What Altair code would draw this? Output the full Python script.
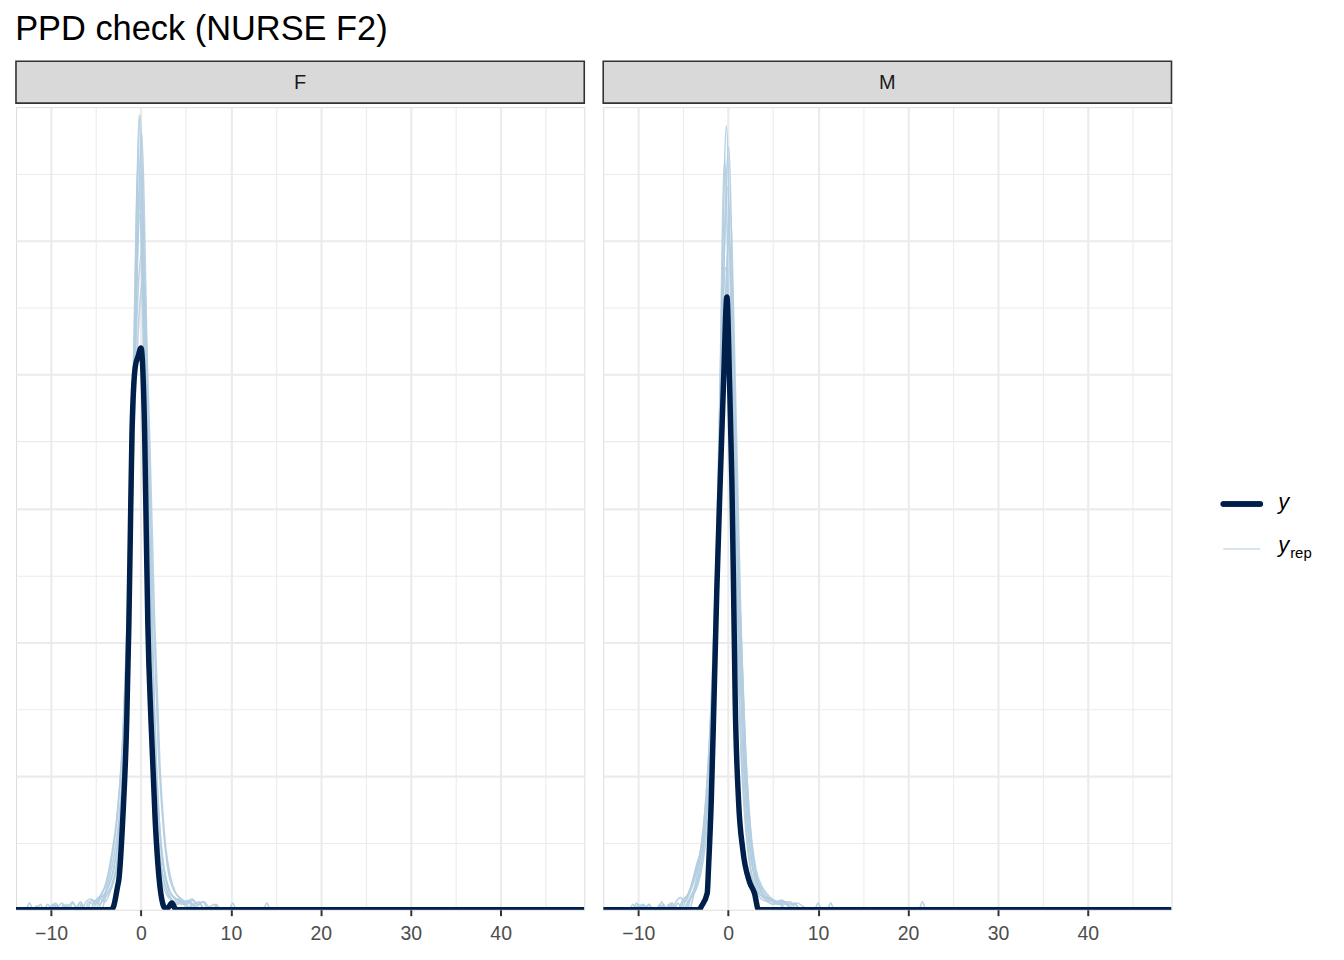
import altair as alt
import pandas as pd

# ---------------- data ----------------
PANELS = ["F", "M"]
X_DOMAIN = [-13.9, 49.3]
Y_DOMAIN = [0, 3.0]
X_GRID = [-10, -5, 0, 5, 10, 15, 20, 25, 30, 35, 40, 45]
Y_GRID = [0.25, 0.5, 0.75, 1.0, 1.25, 1.5, 1.75, 2.0, 2.25, 2.5, 2.75]

# observed density (y)
F_Y = [(-13.9, 0), (-3.3, 0), (-3.05, 0.012), (-2.6, 0.087), (-2.46, 0.112), (-2.03, 0.335),
       (-1.58, 0.71), (-1.35, 1.06), (-1.18, 1.41), (-1.0, 1.78), (-0.63, 2.03), (-0.3, 2.07),
       (0.0, 2.10), (0.41, 1.78), (0.59, 1.41), (0.77, 1.06), (1.11, 0.71), (1.58, 0.335),
       (2.03, 0.112), (2.4, 0.026), (2.6, 0.008), (2.95, 0.006), (3.43, 0.025), (3.9, 0), (49.3, 0)]
M_Y = [(-13.9, 0), (-3.2, 0), (-2.99, 0.012), (-2.33, 0.062), (-2.18, 0.162), (-1.88, 0.409),
       (-1.58, 0.781), (-1.27, 1.19), (-0.89, 1.599), (-0.52, 1.97), (-0.14, 2.29), (0.15, 1.97),
       (0.41, 1.599), (0.6, 1.19), (0.78, 0.781), (1.15, 0.409), (1.63, 0.223), (2.36, 0.105),
       (2.92, 0.062), (3.37, 0), (49.3, 0)]

# replicated densities (y_rep)
F_REP_A = [(-13.9, 0), (-12.8, 0), (-12.4, 0.025), (-12.0, 0), (-9.0, 0), (-8.6, 0.02), (-8.2, 0.01),
           (-7.6, 0.03), (-7.1, 0), (-5.0, 0), (-4.5, 0.04), (-4.0, 0.03), (-3.4, 0.07), (-2.8, 0.14),
           (-2.2, 0.33), (-1.6, 0.78), (-1.1, 1.45), (-0.65, 2.3), (-0.2, 2.97), (0.25, 2.3), (0.65, 1.45),
           (1.1, 0.78), (1.6, 0.33), (2.2, 0.13), (2.8, 0.06), (3.4, 0.035), (4.0, 0.02), (4.6, 0.03),
           (5.2, 0), (13.6, 0), (14.0, 0.025), (14.4, 0), (49.3, 0)]
F_REP_B = [(-13.9, 0), (-10.8, 0), (-10.4, 0.02), (-10.0, 0.01), (-9.5, 0.025), (-9.0, 0), (-6.2, 0),
           (-5.8, 0.03), (-5.3, 0.02), (-4.8, 0.045), (-4.2, 0.05), (-3.6, 0.09), (-3.0, 0.16), (-2.4, 0.3),
           (-1.8, 0.62), (-1.2, 1.3), (-0.6, 2.2), (0.0, 2.75), (0.5, 2.15), (1.0, 1.3), (1.5, 0.65),
           (2.1, 0.28), (2.7, 0.12), (3.3, 0.06), (4.0, 0.04), (4.7, 0.025), (5.3, 0.03), (5.8, 0),
           (8.0, 0), (8.4, 0.02), (8.8, 0), (49.3, 0)]
F_REP_C = [(-13.9, 0), (-11.6, 0), (-11.2, 0.02), (-10.8, 0), (-7.2, 0), (-6.8, 0.025), (-6.4, 0),
           (-5.6, 0), (-5.1, 0.035), (-4.6, 0.02), (-4.0, 0.06), (-3.5, 0.12), (-3.0, 0.2), (-2.5, 0.32),
           (-1.9, 0.6), (-1.3, 1.2), (-0.7, 2.05), (-0.1, 2.6), (0.5, 2.0), (1.1, 1.15), (1.7, 0.55),
           (2.3, 0.22), (2.9, 0.1), (3.5, 0.05), (4.2, 0.035), (4.8, 0.02), (5.4, 0.03), (6.0, 0.01),
           (6.6, 0.02), (7.1, 0), (9.8, 0), (10.2, 0.025), (10.6, 0), (49.3, 0)]
F_REP_D = [(-13.9, 0), (-9.8, 0), (-9.4, 0.02), (-9.0, 0), (-8.0, 0), (-7.6, 0.025), (-7.2, 0.01),
           (-6.7, 0.03), (-6.2, 0), (-4.4, 0), (-3.9, 0.05), (-3.3, 0.09), (-2.7, 0.17), (-2.1, 0.38),
           (-1.5, 0.85), (-0.9, 1.6), (-0.4, 2.45), (0.1, 2.9), (0.55, 2.3), (1.0, 1.45), (1.5, 0.75),
           (2.0, 0.35), (2.6, 0.15), (3.2, 0.07), (3.8, 0.04), (4.5, 0.02), (5.2, 0.035), (5.8, 0.02),
           (6.5, 0.03), (7.0, 0), (49.3, 0)]
F_REP_E = [(-13.9, 0), (-8.6, 0), (-8.2, 0.02), (-7.8, 0), (-6.6, 0), (-6.1, 0.03), (-5.6, 0.04),
           (-5.0, 0.03), (-4.4, 0.06), (-3.8, 0.1), (-3.2, 0.2), (-2.6, 0.36), (-2.0, 0.65), (-1.4, 1.2),
           (-0.7, 2.0), (0.05, 2.45), (0.7, 1.95), (1.3, 1.2), (1.9, 0.62), (2.5, 0.3), (3.1, 0.13),
           (3.7, 0.07), (4.3, 0.045), (5.0, 0.03), (5.7, 0.04), (6.3, 0.02), (7.0, 0.03), (7.6, 0.01),
           (8.2, 0.02), (8.7, 0), (49.3, 0)]
F_REP_F = [(-13.9, 0), (-12.0, 0), (-11.6, 0.015), (-11.2, 0), (-10.2, 0), (-9.8, 0.02), (-9.4, 0),
           (-5.4, 0), (-4.9, 0.03), (-4.3, 0.05), (-3.7, 0.08), (-3.1, 0.14), (-2.5, 0.28), (-1.9, 0.6),
           (-1.3, 1.25), (-0.8, 2.1), (-0.3, 2.8), (0.2, 2.2), (0.7, 1.35), (1.2, 0.7), (1.8, 0.3),
           (2.4, 0.13), (3.0, 0.06), (3.6, 0.03), (4.2, 0.04), (4.8, 0.02), (5.5, 0.03), (6.1, 0), (49.3, 0)]
F_REP_G = [(-13.9, 0), (-10.2, 0), (-9.8, 0.02), (-9.3, 0.01), (-8.8, 0.025), (-8.3, 0), (-6.0, 0),
           (-5.5, 0.035), (-5.0, 0.02), (-4.5, 0.05), (-3.9, 0.1), (-3.3, 0.2), (-2.7, 0.34), (-2.1, 0.6),
           (-1.4, 1.15), (-0.6, 1.95), (0.2, 2.35), (0.9, 1.85), (1.5, 1.1), (2.1, 0.55), (2.7, 0.25),
           (3.3, 0.12), (3.9, 0.06), (4.5, 0.04), (5.1, 0.02), (5.7, 0.035), (6.3, 0.02), (6.9, 0.03),
           (7.5, 0), (49.3, 0)]
F_REP_H = [(-13.9, 0), (-7.0, 0), (-6.6, 0.02), (-6.2, 0), (-4.8, 0), (-4.3, 0.035), (-3.7, 0.06),
           (-3.1, 0.1), (-2.5, 0.2), (-1.9, 0.45), (-1.3, 1.0), (-0.7, 2.1), (-0.1, 2.97), (0.45, 2.2),
           (1.0, 1.1), (1.6, 0.45), (2.2, 0.18), (2.8, 0.08), (3.4, 0.04), (4.0, 0.025), (4.7, 0.035),
           (5.3, 0.01), (5.9, 0.02), (6.4, 0), (49.3, 0)]

M_REP_A = [(-13.9, 0), (-10.6, 0), (-10.2, 0.025), (-9.8, 0), (-7.8, 0), (-7.4, 0.03), (-7.0, 0),
           (-4.8, 0), (-4.3, 0.04), (-3.7, 0.09), (-3.1, 0.2), (-2.5, 0.4), (-1.9, 0.75), (-1.3, 1.35),
           (-0.75, 2.2), (-0.2, 2.93), (0.3, 2.25), (0.8, 1.4), (1.3, 0.75), (1.9, 0.35), (2.5, 0.15),
           (3.1, 0.07), (3.7, 0.04), (4.4, 0.03), (5.0, 0.02), (5.6, 0.03), (6.2, 0), (49.3, 0)]
M_REP_B = [(-13.9, 0), (-9.8, 0), (-9.4, 0.02), (-9.0, 0), (-6.8, 0), (-6.4, 0.025), (-6.0, 0),
           (-5.4, 0), (-4.9, 0.04), (-4.4, 0.06), (-3.8, 0.12), (-3.2, 0.18), (-2.6, 0.3), (-2.0, 0.55),
           (-1.4, 1.1), (-0.8, 1.95), (-0.1, 2.7), (0.5, 2.0), (1.1, 1.15), (1.7, 0.55), (2.3, 0.25),
           (2.9, 0.12), (3.5, 0.06), (4.2, 0.04), (4.9, 0.03), (5.6, 0.02), (6.3, 0.03), (7.0, 0),
           (9.6, 0), (10.0, 0.025), (10.4, 0), (49.3, 0)]
M_REP_C = [(-13.9, 0), (-7.6, 0), (-7.2, 0.02), (-6.8, 0), (-5.6, 0), (-5.1, 0.035), (-4.6, 0.05),
           (-4.0, 0.1), (-3.5, 0.17), (-3.0, 0.22), (-2.4, 0.35), (-1.8, 0.65), (-1.1, 1.3), (-0.5, 2.1),
           (0.1, 2.5), (0.7, 1.95), (1.3, 1.15), (1.9, 0.55), (2.5, 0.26), (3.1, 0.13), (3.7, 0.08),
           (4.3, 0.05), (4.9, 0.035), (5.5, 0.02), (6.1, 0.03), (6.8, 0.01), (7.4, 0.02), (8.0, 0),
           (11.0, 0), (11.4, 0.025), (11.8, 0), (49.3, 0)]
M_REP_D = [(-13.9, 0), (-10.0, 0), (-9.6, 0.02), (-9.2, 0.01), (-8.8, 0.02), (-8.4, 0), (-6.0, 0),
           (-5.6, 0.025), (-5.1, 0), (-4.3, 0), (-3.8, 0.06), (-3.2, 0.13), (-2.6, 0.27), (-2.0, 0.55),
           (-1.4, 1.1), (-0.8, 1.95), (0.05, 2.85), (0.6, 2.1), (1.1, 1.3), (1.6, 0.7), (2.2, 0.32),
           (2.8, 0.15), (3.4, 0.08), (4.0, 0.05), (4.7, 0.04), (5.4, 0.025), (6.0, 0.035), (6.7, 0.02),
           (7.4, 0.025), (8.0, 0), (21.2, 0), (21.6, 0.03), (22.0, 0), (49.3, 0)]
M_REP_E = [(-13.9, 0), (-8.0, 0), (-7.6, 0.02), (-7.2, 0), (-6.2, 0), (-5.8, 0.03), (-5.3, 0.045),
           (-4.8, 0.03), (-4.2, 0.07), (-3.6, 0.13), (-3.0, 0.24), (-2.4, 0.45), (-1.8, 0.85), (-1.1, 1.55),
           (-0.3, 2.4), (0.4, 1.9), (1.0, 1.2), (1.6, 0.65), (2.2, 0.3), (2.8, 0.15), (3.4, 0.09),
           (4.0, 0.05), (4.6, 0.04), (5.2, 0.03), (5.8, 0.02), (6.5, 0.03), (7.1, 0.02), (7.7, 0.025),
           (8.4, 0.01), (8.9, 0), (49.3, 0)]
M_REP_F = [(-13.9, 0), (-10.4, 0), (-10.0, 0.02), (-9.6, 0), (-7.0, 0), (-6.6, 0.02), (-6.2, 0),
           (-5.0, 0), (-4.5, 0.03), (-4.0, 0.05), (-3.4, 0.09), (-2.8, 0.18), (-2.2, 0.35), (-1.6, 0.7),
           (-0.9, 1.45), (-0.3, 2.2), (0.2, 2.62), (0.8, 1.95), (1.4, 1.1), (2.0, 0.55), (2.6, 0.25),
           (3.2, 0.12), (3.8, 0.06), (4.5, 0.04), (5.2, 0.03), (5.9, 0.035), (6.6, 0.02), (7.2, 0), (49.3, 0)]
M_REP_G = [(-13.9, 0), (-9.2, 0), (-8.8, 0.02), (-8.4, 0), (-5.2, 0), (-4.7, 0.04), (-4.2, 0.08),
           (-3.7, 0.14), (-3.2, 0.2), (-2.6, 0.32), (-2.0, 0.58), (-1.3, 1.15), (-0.6, 1.85), (0.0, 2.2),
           (0.7, 1.8), (1.3, 1.15), (1.9, 0.62), (2.5, 0.3), (3.1, 0.15), (3.7, 0.09), (4.3, 0.06),
           (4.9, 0.04), (5.5, 0.03), (6.2, 0.02), (6.9, 0.03), (7.6, 0), (49.3, 0)]
M_REP_H = [(-13.9, 0), (-11.0, 0), (-10.6, 0.02), (-10.2, 0), (-6.6, 0), (-6.2, 0.025), (-5.8, 0),
           (-4.6, 0), (-4.1, 0.05), (-3.5, 0.1), (-2.9, 0.2), (-2.3, 0.4), (-1.7, 0.8), (-1.1, 1.55),
           (-0.4, 2.8), (0.2, 2.0), (0.8, 1.2), (1.4, 0.6), (2.0, 0.28), (2.6, 0.13), (3.2, 0.07),
           (3.8, 0.05), (4.4, 0.03), (5.0, 0.02), (5.7, 0.03), (6.4, 0), (49.3, 0)]

F_REPS = [F_REP_A, F_REP_B, F_REP_C, F_REP_D, F_REP_E, F_REP_F, F_REP_G, F_REP_H]
M_REPS = [M_REP_A, M_REP_B, M_REP_C, M_REP_D, M_REP_E, M_REP_F, M_REP_G, M_REP_H]

# ---------------- styling ----------------
FONT = "Liberation Sans"
DARK = "#011f4b"
LIGHT = "#b3cde0"
GRID = "#EBEBEB"
BORDER = "#333333"
W, H = 570, 805
STRIP_H = 42


def make_df(y_pts, reps):
    rows = []
    for i, pts in enumerate(reps):
        for j, (x, y) in enumerate(pts):
            rows.append({"curve": f"rep{i}", "kind": "yrep", "x": x, "y": y, "i": j})
    for j, (x, y) in enumerate(y_pts):
        rows.append({"curve": "y", "kind": "y", "x": x, "y": y, "i": j})
    return pd.DataFrame(rows)


x_axis = alt.Axis(
    values=X_GRID, title=None, domain=False,
    labelExpr="datum.value % 10 === 0 ? datum.label : ''",
    labelFont=FONT, labelFontSize=19.5, labelColor="#4D4D4D", labelPadding=9,
    tickColor=BORDER, tickSize=6, tickWidth=2,
    tickOpacity={"condition": {"test": "datum.value % 10 === 0", "value": 1}, "value": 0},
    grid=True, gridColor=GRID,
    gridWidth={"condition": {"test": "datum.value % 10 === 0", "value": 2.1}, "value": 1.05},
)
y_axis = alt.Axis(
    values=Y_GRID, title=None, domain=False, labels=False, ticks=False,
    grid=True, gridColor=GRID,
    gridWidth={"condition": {"test": "datum.value % 0.5 === 0", "value": 2.1}, "value": 1.05},
)
xs = alt.Scale(domain=X_DOMAIN, nice=False, zero=False)
ys = alt.Scale(domain=Y_DOMAIN, nice=False, zero=False)


def panel(label, y_pts, reps):
    df = make_df(y_pts, reps)
    base = alt.Chart(df)
    rep = base.transform_filter("datum.kind === 'yrep'").mark_line(
        color=LIGHT, strokeWidth=1.6, opacity=0.9, interpolate="monotone", clip=True
    ).encode(
        x=alt.X("x:Q", scale=xs, axis=x_axis),
        y=alt.Y("y:Q", scale=ys, axis=y_axis),
        detail="curve:N", order="i:Q",
    )
    obs = base.transform_filter("datum.kind === 'y'").mark_line(
        color=DARK, strokeWidth=5.5, interpolate="monotone", strokeJoin="round", clip=True
    ).encode(x=alt.X("x:Q", scale=xs), y=alt.Y("y:Q", scale=ys), order="i:Q")
    plot = alt.layer(rep, obs).properties(width=W, height=H)

    strip = alt.Chart(pd.DataFrame({"label": [label]})).mark_text(
        font=FONT, fontSize=20, color="#1A1A1A", baseline="middle", align="center"
    ).encode(
        text="label:N", x=alt.value(W / 2), y=alt.value(STRIP_H / 2 + 1)
    ).properties(
        width=W, height=STRIP_H,
        view=alt.ViewBackground(fill="#D9D9D9", stroke=BORDER, strokeWidth=1.6),
    )
    return alt.vconcat(strip, plot, spacing=2)


# legend (drawn as its own small chart)
LEGEND_LABELS = ["y", "y"]
leg_df = pd.DataFrame({"label": LEGEND_LABELS})
leg_y_line = alt.Chart(leg_df).mark_rule(color=DARK, strokeWidth=5.5, strokeCap="round").encode(
    x=alt.value(33), x2=alt.value(70), y=alt.value(444))
leg_y_txt = alt.Chart(pd.DataFrame({"t": ["y"]})).mark_text(
    font=FONT, fontSize=22, fontStyle="italic", align="left", baseline="alphabetic", color="black"
).encode(text="t:N", x=alt.value(88), y=alt.value(449))
leg_r_line = alt.Chart(leg_df).mark_rule(color="#d1e1ec", strokeWidth=1.3).encode(
    x=alt.value(33), x2=alt.value(70), y=alt.value(489))
leg_r_txt = alt.Chart(pd.DataFrame({"t": ["y"]})).mark_text(
    font=FONT, fontSize=22, fontStyle="italic", align="left", baseline="alphabetic", color="black"
).encode(text="t:N", x=alt.value(88), y=alt.value(492))
leg_r_sub = alt.Chart(pd.DataFrame({"t": ["rep"]})).mark_text(
    font=FONT, fontSize=15, align="left", baseline="alphabetic", color="black"
).encode(text="t:N", x=alt.value(100), y=alt.value(498))
legend = alt.layer(leg_y_line, leg_y_txt, leg_r_line, leg_r_txt, leg_r_sub).properties(
    width=140, height=STRIP_H + 2 + H,
    view=alt.ViewBackground(stroke="transparent"),
)

chart = alt.hconcat(
    panel("F", F_Y, F_REPS), panel("M", M_Y, M_REPS), legend, spacing=17
).properties(
    title=alt.TitleParams("PPD check (NURSE F2)", anchor="start", font=FONT, fontSize=34.5,
                          fontWeight="normal", color="black", offset=13),
    padding={"left": 7, "top": 2, "right": 5, "bottom": 5},
).configure_view(
    stroke=BORDER, strokeWidth=1.6
).configure(background="white")

chart.save("out.html", embed_options={"renderer": "svg", "actions": False})
